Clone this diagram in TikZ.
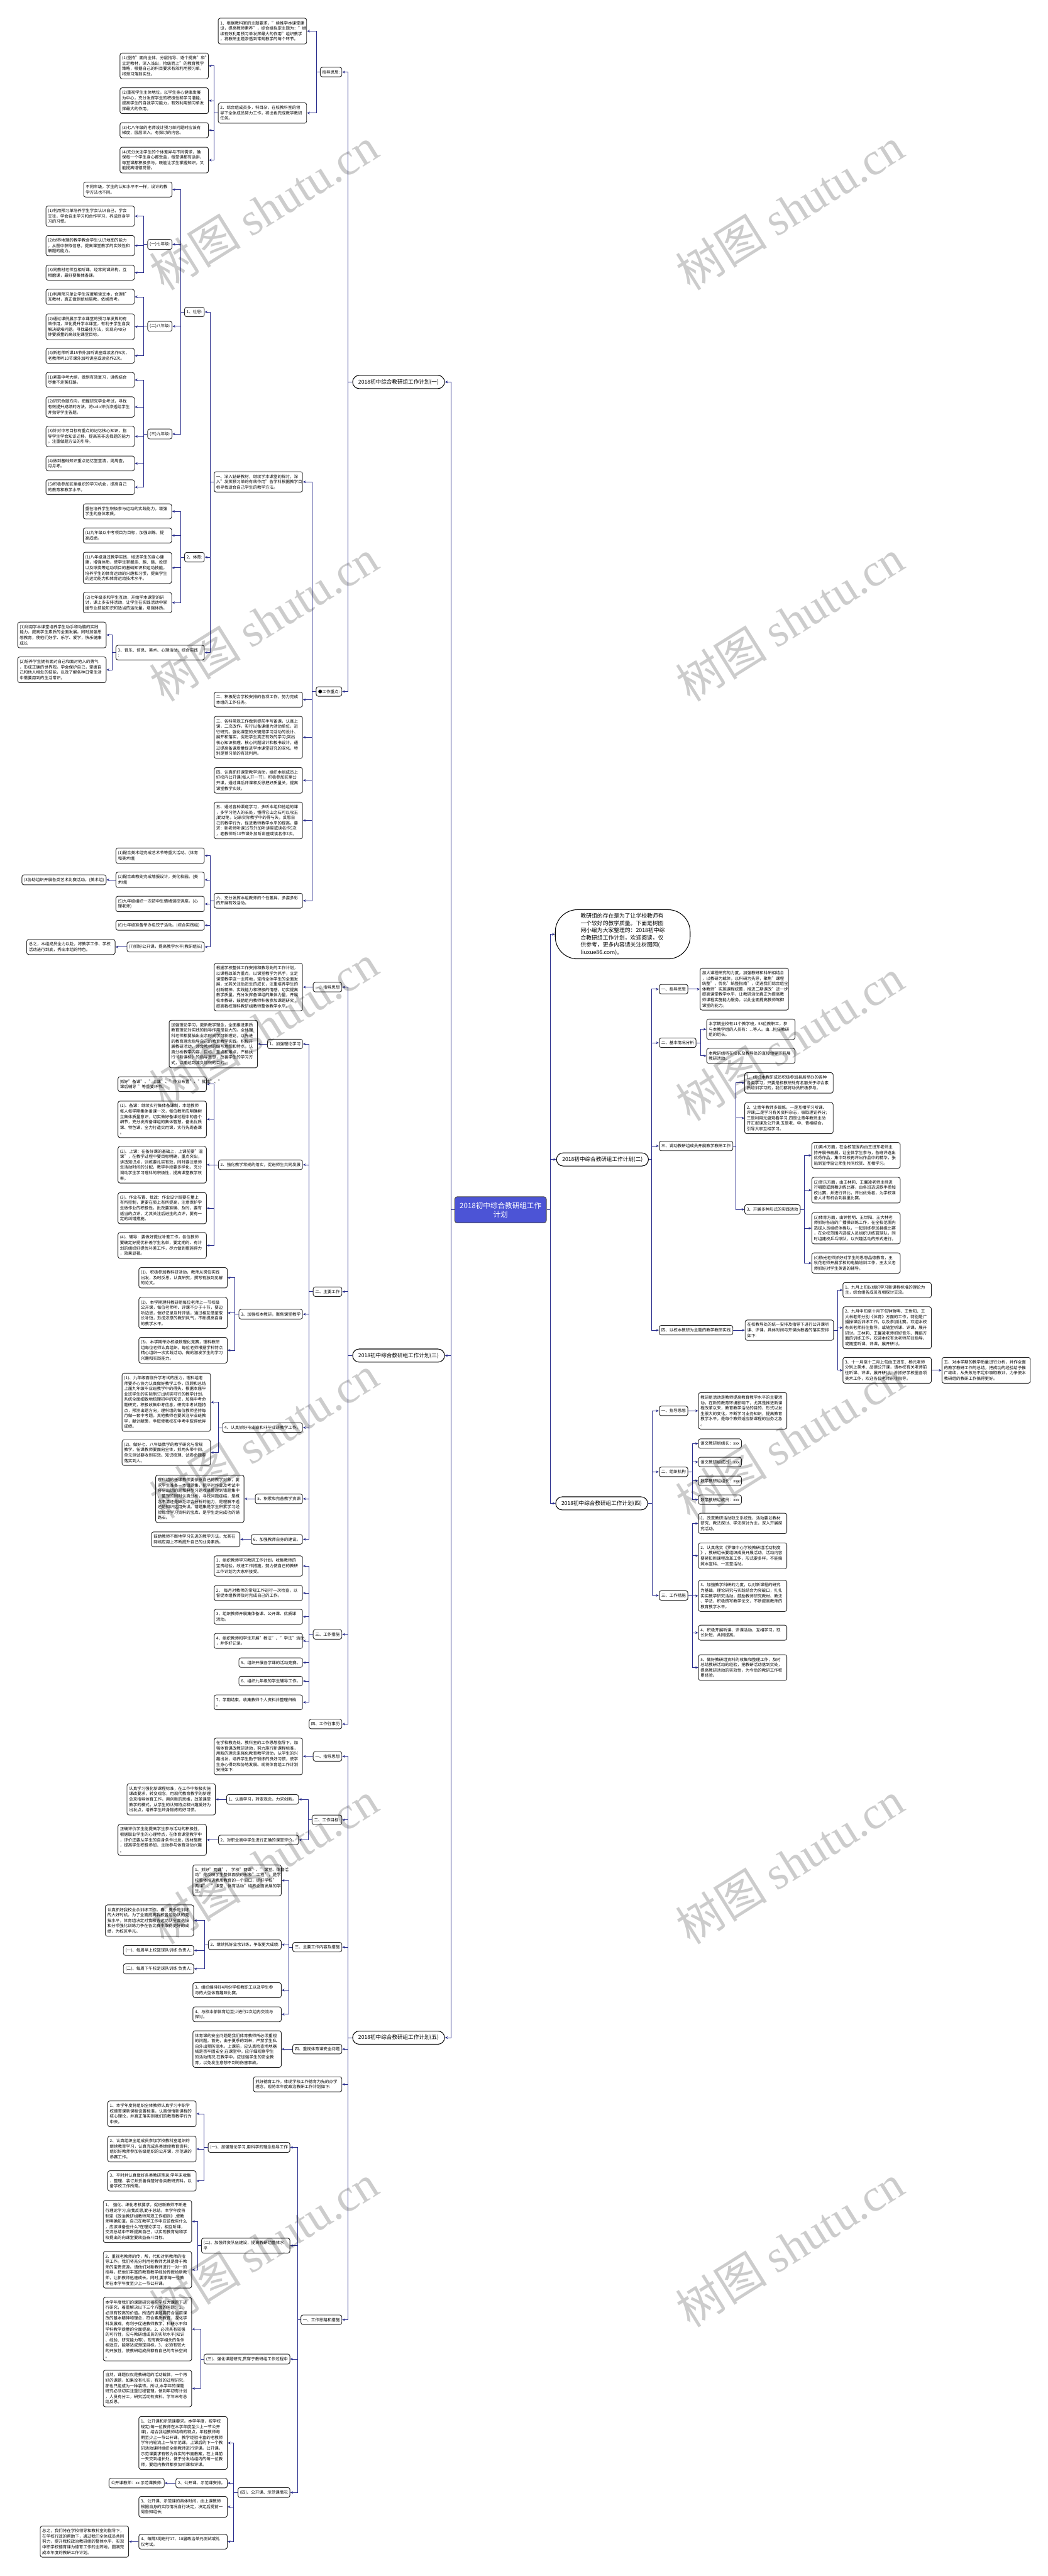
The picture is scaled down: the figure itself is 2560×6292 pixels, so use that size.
\documentclass[tikz,border=0pt]{standalone}
\usepackage{fontspec}
\setmainfont{Noto Sans CJK SC}
\newfontfamily\markfont{Liberation Serif}
\usetikzlibrary{arrows.meta}
\definecolor{linkblue}{RGB}{40,44,140}
\definecolor{rootblue}{RGB}{76,84,214}
\tikzset{
  box/.style={draw=black!85, line width=0.7pt, rounded corners=2.5pt, fill=white,
    font=\fontsize{5}{6.6}\selectfont, inner xsep=2.5pt, inner ysep=3.5pt},
  leaf/.style={box, text width=103pt, align=left},
  tag/.style={box, align=left},
  branch/.style={draw=black, line width=0.8pt, rounded corners=8pt, fill=white,
    font=\fontsize{6.6}{8}\selectfont, inner xsep=7pt, inner ysep=4.6pt},
  rootbox/.style={draw=black!70, line width=0.8pt, rounded corners=3pt, fill=rootblue,
    text=white, font=\fontsize{8.9}{10.7}\selectfont, align=center, inner xsep=6pt, inner ysep=6.5pt},
  introbox/.style={draw=black, line width=0.8pt, rounded corners=27pt, fill=white,
    font=\fontsize{6.75}{8.8}\selectfont, align=left, inner xsep=31pt, inner ysep=4.5pt},
  conn/.style={draw=linkblue, line width=0.7pt, -{Stealth[length=3.5pt,width=3pt]}},
  wmark/.style={text=black, text opacity=0.2, font=\fontsize{56}{56}\selectfont, rotate=32, inner sep=0pt}
}
\begin{document}
\begin{tikzpicture}[x=0.5pt,y=-0.5pt]
\useasboundingbox (0,0) rectangle (2560,6292);

\node[rootbox] (root) at (1223,2955) {2018初中综合教研组工作\\计划};

\node[branch, anchor=east] (b1) at (1087,933) {2018初中综合教研组工作计划(一)};
\node[branch, anchor=east] (b3) at (1087,3311) {2018初中综合教研组工作计划(三)};
\node[branch, anchor=east] (b5) at (1087,4977) {2018初中综合教研组工作计划(五)};
\node[introbox, anchor=west] (intro) at (1356,2282) {教研组的存在是为了让学校教师有\\一个较好的教学质量。下面是树图\\网小编为大家整理的：2018初中综\\合教研组工作计划，欢迎阅读，仅\\供参考，更多内容请关注树图网(\\liuxue86.com)。};
\node[branch, anchor=west] (b2) at (1359,2832) {2018初中综合教研组工作计划(二)};
\node[branch, anchor=west] (b4) at (1357,3672) {2018初中综合教研组工作计划(四)};

\node[tag, anchor=east] (b1g) at (836,176) {指导思想:};
\node[leaf, anchor=east] (b1g1) at (750,76) {1、根据教科室的主题要求，"续推学本课堂建\\设，提高教师素养"，综合组拟定主题为："继\\续有效利用预习单发挥最大的作用"组织教学\\，将教研主题渗透到常规教学的每个环节。};
\node[leaf, anchor=east] (b1g2) at (750,276) {2、综合组成员多，科目杂，在校教科室的领\\导下全体成员努力工作，将出色完成教学教研\\任务。};
\node[leaf, anchor=east] (b1g2a) at (510,161) {(1)坚持"面向全体，分层指导、逐个提高"和"\\立足教材，深入浅出，拾级而上"的教育教学\\策略，根据自己的科目要求有效利用预习单，\\将预习落到实处。};
\node[leaf, anchor=east] (b1g2b) at (510,246) {(2)重视学生主体地位，以学生身心健康发展\\为中心，充分发挥学生的积极性和学习潜能，\\提高学生的自我学习能力，有效利用预习单发\\挥最大的作用。};
\node[leaf, anchor=east] (b1g2c) at (510,318) {(3)七八年级的老师设计预习单问题时应该有\\梯度，层层深入，有探讨的内容。};
\node[leaf, anchor=east] (b1g2d) at (510,391) {(4)充分关注学生的个体差异与不同需求，确\\保每一个学生身心都受益，每堂课都有话讲，\\每堂课都积极参与，既能让学生掌握知识，又\\能提高道德觉悟。};

\node[tag, anchor=east] (b1k) at (836,1689) {●工作重点:};
\node[leaf, anchor=east] (b1k1) at (740,1177) {一、深入钻研教材，继续学本课堂的探讨，深\\入"发挥预习单的有效作用"各学科根据教学目\\标寻找适合自己学生的教学方法。};
\node[tag, anchor=east] (b1k1a) at (500,762) {1、社思:};
\node[leaf, anchor=east] (b1k1a0) at (421,463) {不同年级，学生的认知水平不一样，设计的教\\学方法也不同。};
\node[tag, anchor=east] (b1k1a1) at (421,597) {(一)七年级:};
\node[leaf, anchor=east] (b1k1a1a) at (329,528) {(1)利用预习单培养学生学会认识自己，学会\\交往，学会自主学习和合作学习，养成终身学\\习的习惯。};
\node[leaf, anchor=east] (b1k1a1b) at (329,600) {(2)世界地理的教学教会学生认识地图的能力\\，从图中获取信息，提高课堂教学的实效性和\\解题的能力。};
\node[leaf, anchor=east] (b1k1a1c) at (329,666) {(3)同教材老师互相听课，经常同课异构，互\\相磨课，最好要集体备课。};
\node[tag, anchor=east] (b1k1a2) at (421,797) {(二)八年级:};
\node[leaf, anchor=east] (b1k1a2a) at (329,725) {(1)利用预习单让学生深度解读文本，合理扩\\充教材，真正做到依标施教，依纲而考。};
\node[leaf, anchor=east] (b1k1a2b) at (329,798) {(2)通过课例展示学本课堂的预习单发挥的有\\效作用，深化提升学本课堂，有利于学生自我\\解决疑难问题。寻找最佳方法，实现向40分\\钟要质量的高效能课堂目标。};
\node[leaf, anchor=east] (b1k1a2c) at (329,869) {(4)新老师听课15节外加听讲座或读名作5次，\\老教师听10节课外加听讲座或读名作2次。};
\node[tag, anchor=east] (b1k1a3) at (421,1060) {(三)九年级:};
\node[leaf, anchor=east] (b1k1a3a) at (329,928) {(1)紧靠中考大纲，做到有效复习，讲练结合\\尽量不走冤枉路。};
\node[leaf, anchor=east] (b1k1a3b) at (329,994) {(2)研究命题方向，把握研究学业考试，寻找\\有效提升成绩的方法。将solo评价渗透给学生\\并指导学生答题。};
\node[leaf, anchor=east] (b1k1a3c) at (329,1066) {(3)针对中考目标有重点的记忆核心知识，指\\导学生学会知识迁移，提高答非选择题的能力\\，注重做题方法的引导。};
\node[leaf, anchor=east] (b1k1a3d) at (329,1132) {(4)做到基础知识重点记忆堂堂清，周周查，\\月月考。};
\node[leaf, anchor=east] (b1k1a3e) at (329,1190) {(5)积极参加区里组织的学习机会，提高自己\\的教育和教学水平。};
\node[tag, anchor=east] (b1k1b) at (500,1361) {2、体育:};
\node[leaf, anchor=east] (b1k1ba) at (420,1249) {重在培养学生积极参与运动的实践能力，增强\\学生的身体素质。};
\node[leaf, anchor=east] (b1k1bb) at (420,1308) {(1)九年级以中考项目为目标，加强训练，提\\高成绩。};
\node[leaf, anchor=east] (b1k1bc) at (420,1387) {(1)八年级通过教学实践，增进学生的身心健\\康，增强体质，使学生掌握走、跑、跳、投掷\\以及球类等运动项目的基础知识和运动技能。\\培养学生的体育运动的兴趣和习惯，提高学生\\的运动能力和体育运动技术水平。};
\node[leaf, anchor=east] (b1k1bd) at (420,1472) {(2)七年级多和学生互动，开始学本课堂的研\\讨，课上多安排活动，让学生在实践活动中掌\\握专业技能知识和适当的运动量，增强体质。};
\node[leaf, anchor=east] (b1k1c) at (500,1594) {3、音乐、信息、美术、心理活动、综合实践\\:};
\node[leaf, anchor=east] (b1k1ca) at (260,1551) {(1)利用学本课堂培养学生动手和动脑的实践\\能力，提高学生素质的全面发展。同时加强思\\想教育，使他们好学、乐学、爱学，快乐健康\\成长};
\node[leaf, anchor=east] (b1k1cb) at (260,1636) {(2)培养学生拥有面对自己和面对他人的勇气\\，形成正确的世界观。学会保护自己，掌握自\\己和他人相处的技能，以及了解各种日常生活\\中需要用到的生活常识。};
\node[leaf, anchor=east] (b1k2) at (740,1709) {二、积极配合学校安排的各项工作，努力完成\\本组的工作任务。};
\node[leaf, anchor=east] (b1k3) at (740,1801) {三、各科常规工作做到提前手写备课，认真上\\课，二次改作。实行以备课组为活动单位，进\\行研究。强化课堂的关键是学习活动的设计、\\展开和落实，促进学生真正有效的学习;突出\\核心知识梳理、核心问题设计和板书设计，通\\过提高备课质量促进学本课堂研究的深化，特\\别是预习单的有效利用。};
\node[leaf, anchor=east] (b1k4) at (740,1906) {四、认真抓好课堂教学活动，组织本组成员上\\好校内公开课(每人开一节)，积极参加区里公\\开课，通过课后评课和反思把好质量关，提高\\课堂教学实效。};
\node[leaf, anchor=east] (b1k5) at (740,2004) {五、通过各种渠道学习，多听本组和他组的课\\，多学习他人的长处，懂得它山之石可以攻玉\\;勤动笔，记录实际教学中的得与失，反思自\\己的教学行为，促进教师教学水平的提高。要\\求：新老师听课15节外加听讲座或读名作5次\\，老教师听10节课外加听讲座或读名作2次。};
\node[leaf, anchor=east] (b1k6) at (740,2200) {六、充分发挥本组教师的个性差异，多姿多彩\\的开展有效活动。};
\node[leaf, anchor=east] (b1k6a) at (500,2090) {(1)配合美术组完成艺术节等重大活动。(体育\\和美术组)};
\node[leaf, anchor=east] (b1k6b) at (500,2149) {(2)配合政教处完成墙报设计，美化校园。(美\\术组)};
\node[tag, anchor=east] (b1k6b1) at (260,2149) {(3协助组织开展各类艺术比赛活动。(美术组)};
\node[leaf, anchor=east] (b1k6c) at (500,2208) {(5)九年级组织一次初中生情绪调控讲座。(心\\理老师)};
\node[leaf, anchor=east] (b1k6d) at (500,2260) {(6)七年级准备举办包饺子活动。(综合实践组)};
\node[tag, anchor=east] (b1k6e) at (500,2313) {(7)抓好公开课，提高教学水平(教研组长)};
\node[leaf, anchor=east] (b1k6e1) at (282,2313) {总之，本组成员全力以赴，将教学工作、学校\\活动进行到底，秀出本组的特色。};

\node[tag, anchor=east] (b3g) at (836,2411) {一、指导思想};
\node[leaf, anchor=east] (b3g1) at (740,2411) {根据学校整体工作安排和教导处的工作计划，\\以课程改革为重点，以课堂教学为抓手，立足\\课堂教学这一主阵地，坚持全体学生的全面发\\展，尤其关注后进生的成长，注重培养学生的\\创新精神、实践能力和积极的情感，切实提高\\教学质量。充分发挥备课组的集体力量，开展\\校本教研，鼓励组内教师积极参加课题研究，\\提高我校理科教研组教师整体教学水平。};
\node[tag, anchor=east] (b3m) at (836,3155) {二、主要工作};
\node[tag, anchor=east] (b3m1) at (740,2550) {1、加强理论学习};
\node[leaf, anchor=east] (b3m1a) at (630,2550) {加强理论学习，更新教学理念，全面推进素质\\教育理论对实践的指导作用是巨大的。全体理\\科老师都要抽出业余时间学习新理论，以先进\\的教育理念指导自己的教育教学实践。积极开\\展教研活动，领会教材的编写意图和特点，认\\真分析教学内容、目标、重点和难点，严格执\\行《新课标》的指导思想，改善学生的学习方\\式，以期达到减负增效的目的。};
\node[tag, anchor=east] (b3m2) at (740,2845) {2、强化教学常规的落实，促进师生共同发展};
\node[leaf, anchor=east] (b3m2a) at (505,2648) {抓好"备课"、"上课"、"作业布置"、"批改"、"\\课后辅导~"等重要环节。};
\node[leaf, anchor=east] (b3m2b) at (505,2734) {(1)、备课：继续实行集体备课制，本组教师\\每人每学期集体备课一次，每位教师应明确树\\立集体质量意识，切实做好备课过程中的各个\\细节，充分发挥备课组的集体智慧，备出优质\\课、特色课，全力打造实用课，实行先周备课\\。};
\node[leaf, anchor=east] (b3m2c) at (505,2845) {(2)、上课：在备好课的基础上，上课前要"温\\课"，在教学过程中要目标明确，重点突出，\\讲透知识点，训练要扎实有效，同时要注意师\\生活动时间的分配，教学手段要多样化，充分\\调动学生学习理科的积极性，提高课堂教学效\\率。};
\node[leaf, anchor=east] (b3m2d) at (505,2951) {(3)、作业布置、批改：作业设计既要在量上\\有所控制，更要在质上有所提高，注意保护学\\生做作业的积极性。批改要准确、及时，要有\\适当的点评，尤其关注后进生的点评，要有一\\定的纠错措施。};
\node[leaf, anchor=east] (b3m2e) at (505,3042) {(4)、辅导：要做好提优补差工作，各位教师\\要确定好提优补差学生名单，要定期的、有计\\划的组织好提优补差工作，尽力做到措施得力\\，效果显著。};
\node[tag, anchor=east] (b3m3) at (740,3210) {3、加强校本教研，聚焦课堂教学};
\node[leaf, anchor=east] (b3m3a) at (556,3121) {(1)、积极参加教科研活动，教师从岗位实践\\出发，及时反思，认真研究，撰写有独到见解\\的论文。};
\node[leaf, anchor=east] (b3m3b) at (556,3207) {(2)、本学期理科教研组每位老师上一节校级\\公开课，每位老师听、评课不少于十节，要边\\听边思，做好记录及时评语，通过相互借鉴取\\长补短，形成浓厚的教研风气，不断提高自身\\的教学水平。};
\node[leaf, anchor=east] (b3m3c) at (556,3298) {(3)、本学期举办校级数理化竞赛，理科教研\\组每位老师认真组织。每位老师根据学科特点\\精心组织一次实践活动，做的激发学生的学习\\兴趣和实践能力。};
\node[tag, anchor=east] (b3m4) at (740,3487) {4、认真抓好毕业班和非毕业班教学工作。};
\node[leaf, anchor=east] (b3m4a) at (515,3425) {(1)、九年级面临升学考试的压力，理科组老\\师要齐心协力认真做好教学工作，回顾和总结\\上届九年级毕业班教学中的得失，根据本届毕\\业班学生的实际制订出切实可行的教学计划，\\系统全面细致地梳理初中的知识，加强中考命\\题研究，积极收集中考信息，研究中考试题特\\点，预测出题方向，理科组的每位教师坚持每\\月做一套中考题。其他教师也要关注毕业班教\\学，献计献策，争取使我校在中考中取得优异\\成绩。};
\node[leaf, anchor=east] (b3m4b) at (515,3548) {(2)、做好七、八年级数学的教学研究与常规\\教学，任课教师要面向全体，抓两头带中间，\\单元测试要收到实效。知识梳理、试卷命题要\\落实到人。};
\node[tag, anchor=east] (b3m5) at (740,3661) {5、积累和完善教学资源};
\node[leaf, anchor=east] (b3m5a) at (597,3661) {理科组的任课教师要依据自己的教学对象，要\\求学生准备一本错题集，把平时作业及考试中\\容易出错的题和典型习题收录整理到错题集中\\，整理的同时认真分析，寻找问题症结，是概\\念不清还是缺乏综合分析的能力，是理解不透\\还是知识运用失误。错题集是学生积累学习经\\验综合学习资料的宝库，是学生走向成功的铺\\路石。};
\node[tag, anchor=east] (b3m6) at (740,3760) {6、加强教师自身的建设。};
\node[leaf, anchor=east] (b3m6a) at (587,3760) {鼓励教师不断地学习先进的教学方法，尤其在\\网络应用上不断提升自己的业务素质。};
\node[tag, anchor=east] (b3w) at (836,3992) {三、工作措施};
\node[leaf, anchor=east] (b3w1) at (740,3825) {1、组织教师学习教研工作计划，收集教师的\\宝贵经验，改进工作措施，努力使自己的教研\\工作计划为大家所接受。};
\node[leaf, anchor=east] (b3w2) at (740,3891) {2、~每月对教师的常规工作进行一次检查，以\\督促本组教师及时完成自己的工作。};
\node[leaf, anchor=east] (b3w3) at (740,3949) {3、组织教师开展集体备课、公开课、优质课\\活动。};
\node[leaf, anchor=east] (b3w4) at (740,4008) {4、组织教师和学生开展"教法"、"学法"活动\\，并作好记录。};
\node[tag, anchor=east] (b3w5) at (740,4061) {5、组织开展各学课的活动竞赛。};
\node[tag, anchor=east] (b3w6) at (740,4106) {6、组织九年级的学生辅导工作。};
\node[leaf, anchor=east] (b3w7) at (740,4158) {7、学期结束，收集教师个人资料并整理归档\\。};
\node[tag, anchor=east] (b3x) at (836,4211) {四、工作行事历};

\node[tag, anchor=east] (b5g) at (836,4290) {一、指导思想};
\node[leaf, anchor=east] (b5g1) at (740,4290) {在学校教务处、教科室的工作思想指导下，加\\强体育课改教研活动，努力施行新课程标准，\\用新的理念来强化教育教学活动，从学生的兴\\趣出发，培养学生勤于锻炼的良好习惯，使学\\生身心得到和协地发展。现将体育组工作计划\\安排如下:};
\node[tag, anchor=east] (b5t) at (836,4445) {二、工作目标:};
\node[tag, anchor=east] (b5t1) at (730,4395) {1、认真学习，转变观念，力求创新。};
\node[leaf, anchor=east] (b5t1a) at (527,4395) {认真学习强化新课程标准，在工作中积极实施\\课改要求，转变观念，用现代教育教学的新理\\念来指导体育工作，用创新的思维，改革课堂\\教学的模式，从学生的认知特点和兴趣爱好为\\出发点，培养学生终身锻炼的好习惯。};
\node[tag, anchor=east] (b5t2) at (730,4494) {2、对职业高中学生进行正确的课堂评价。};
\node[leaf, anchor=east] (b5t2a) at (505,4494) {正确评价学生能提高学生参与活动的积极性，\\根据职业学生的心理特点，在体育课堂教学中\\，评价还要从学生的自身条件出发，因材施教\\，提高学生积极参加、主动参与体育活动兴趣\\。};
\node[tag, anchor=east] (b5m) at (836,4756) {三、主要工作内容及措施};
\node[leaf, anchor=east] (b5m1) at (688,4593) {1、抓好"两课"，~学校"两课"、"课堂、体育活\\动"是反映学生整体面貌的形象"工程"，是学\\校整体推进素质教育的一个窗口，抓好学校"\\两课"、"课堂、体育活动"培养全面发展的学\\生。};
\node[tag, anchor=east] (b5m2) at (688,4750) {2、继续抓好业余训练，争取更大成绩:};
\node[leaf, anchor=east] (b5m2a) at (474,4691) {认真抓好我校业余训练工作。春、夏季是训练\\的大好时机。为了全面提高我校各运动队的竞\\技水平，体育组决定对我校各运动队全面选拔\\和分项强化训练力争在各比赛中取得更好的成\\绩，为校区争光。};
\node[tag, anchor=east] (b5m2b) at (474,4764) {(一)、每周早上校篮球队训练 负责人:};
\node[tag, anchor=east] (b5m2c) at (474,4809) {(二)、每周下午校足球队训练 负责人:};
\node[leaf, anchor=east] (b5m3) at (688,4861) {3、组织编排好4月份学校教职工以及学生参\\与的大型体育趣味比赛。};
\node[leaf, anchor=east] (b5m4) at (688,4920) {4、与校本部体育组至少进行2次组内交流与\\探讨。};
\node[tag, anchor=east] (b5s) at (836,5005) {四、重视体育课安全问题};
\node[leaf, anchor=east] (b5s1) at (688,5005) {体育课的安全问题是我们体育教师所必须重视\\的问题。首先，由于夏季的到来，严禁学生私\\自外出预防溺水。上课前，应认真检查场地器\\械是否牢固安全;在课堂中，应仔细观察学生\\的活动情况;在教学中，应加强学生的安全教\\育，以免发生意想不到的伤害事故。};
\node[leaf, anchor=east] (b5d) at (836,5091) {抓好德育工作，体现学校工作德育为先的办学\\理念，现将本年度政治教研工作计划如下:};
\node[tag, anchor=east] (b5w) at (836,5666) {一、工作思路和措施};
\node[tag, anchor=east] (b5w1) at (709,5245) {(一)、加强理论学习,用科学的理念指导工作};
\node[leaf, anchor=east] (b5w1a) at (480,5163) {1、本学年度将组织全体教师认真学习中职学\\校德育课新课程设置标准，认真领悟新课程的\\核心理论，并真正落实到我们的教育教学行为\\中去。};
\node[leaf, anchor=east] (b5w1b) at (480,5249) {2、认真组织全组成员参加学校教科室组织的\\继续教育学习，认真完成各类继续教育资料;\\组织好教师参加各级组织的公开课，示范课的\\参赛工作。};
\node[leaf, anchor=east] (b5w1c) at (480,5327) {3、平时并认真做好各类教研笔录,学年末收集\\、整理、装订并妥善保管好各类教研资料，以\\备学校工作所需。};
\node[leaf, anchor=east] (b5w2) at (709,5485) {(二)、加强师资队伍建设，提高教研组整体水\\平};
\node[leaf, anchor=east] (b5w2a) at (469,5426) {1、~强化、细化考核要求，促进新教师不断进\\行理论学习,自我反思,勤于总结。本学年度将\\制定《政治教研组教师常规工作细则》,使教\\师明确知道，自己在教学工作中应该做些什么\\，应该准备些什么?在理论学习，相互听课，\\交流总结中不断提高自己，以实现教育局和学\\校提出的向课堂要效益奋斗目标。};
\node[leaf, anchor=east] (b5w2b) at (469,5544) {2、重视老教师的传，帮，代和对新教师的指\\导工作。我们将充分利用老教师尤其是骨干教\\师的宝贵资源。请他们对新教师进行一对一的\\指导，把他们丰富的教育教学经验传授给新教\\师，让新教师迅速成长。同时,要求每一位教\\师在本学年度至少上一节公开课。};
\node[tag, anchor=east] (b5w3) at (709,5762) {(三)、强化课题研究,贯穿于教研组工作过程中};
\node[leaf, anchor=east] (b5w3a) at (469,5689) {本学年度我们的课题研究将在学校大课题下进\\行研究，着重解决以下三个方面的问题：1、\\必须有较高的价值。所选的课题要符合当前课\\改的基本精神和理念，符合素质教育，深化学\\科发展观，有利于促进教师教学，科研水平和\\学科教学质量的全面提高。2、必须具有较强\\的可行性，应与教研组成员的实际水平(知识\\、经验、研究能力等)，现有教学相关的条件\\相适应，能够达成预定目标。3、必须有较大\\的开放性，使教研组成员都有自己的专长空间\\。};
\node[leaf, anchor=east] (b5w3b) at (469,5834) {当然，课题仅仅是教研组的活动载体，一个再\\好的课题，如果没有扎实，有效的过程研究，\\那也只能成为一种装饰。所以,本学年的课题\\研究必须切实注重过程管理，做到年初有计划\\，人员有分工，研究活动有资料。学年末有总\\结反思。};
\node[tag, anchor=east] (b5w4) at (709,6088) {(四)、公开课、示范课情况};
\node[leaf, anchor=east] (b5w4a) at (556,5967) {1、公开课和示范课要求。本学年度，按学校\\规定(每一位教师在本学年度至少上一节公开\\课)，结合我组教师结构的特点，年轻教师每\\期至少上一节公开课，教学经验丰富的老教师\\学年内轮流上一节示范课。上课后的下一个教\\研活动课时组织全组教师进行评课。公开课，\\示范课要求有较为详实的书面教案，在上课前\\一天交到组长处，便于分发给组内的每一位教\\师，要组内教师都参加听课和评课。};
\node[tag, anchor=east] (b5w4b) at (556,6065) {2、公开课、示范课安排。};
\node[tag, anchor=east] (b5w4b1) at (402,6065) {公开课教师：xx 示范课教师:};
\node[leaf, anchor=east] (b5w4c) at (556,6123) {3、公开课、示范课的具体时间，由上课教师\\根据自身的实际情况自行决定，决定后提前一\\周告知组长;};
\node[leaf, anchor=east] (b5w4d) at (556,6208) {4、每隔3周进行17、18届政治单元测试或礼\\仪考试。};
\node[leaf, anchor=east] (b5w4d1) at (315,6208) {总之，我们将在学校领导和教科室的指导下，\\在学校行政的帮助下，通过我们全体成员共同\\努力，提升我校政治教研组的整体水平，实现\\中职学校德育课为德育工作的主阵地，圆满完\\成本年度的教研工作计划。};

\node[tag, anchor=west] (b2g) at (1610,2416) {一、指导思想};
\node[leaf, anchor=west] (b2g1) at (1710,2416) {加大课程研究的力度，加强教研和科研相结合\\，以教研为载体，以科研为先导，聚焦"课程\\统整"，优化"统整指南"，促进我们综合组全\\体教师"实施课程统整，推进二期课改"进一步\\提高课堂教学水平，让教研活动真正为提高教\\师课程实施能力服务。以此全面提高教师驾御\\课堂的能力。};
\node[tag, anchor=west] (b2j) at (1610,2547) {二、基本情况分析};
\node[leaf, anchor=west] (b2j1) at (1726,2514) {本学期全校有11个教学班，53位教职工，参\\与本教学组的人员有：...等人。由...担任教研\\组的组长。};
\node[leaf, anchor=west] (b2j2) at (1726,2579) {本教研组将在校长及教导处的直接领导下开展\\教研活动。};
\node[tag, anchor=west] (b2d) at (1610,2799) {三、调动教研组成员开展教学教研工作};
\node[leaf, anchor=west] (b2d1) at (1819,2645) {1、组织本教研成员积极参加县局举办的各种\\各类学习，只要是校教研处有名额关于综合素\\质培训学习的，我们都将动员积极参与。};
\node[leaf, anchor=west] (b2d2) at (1819,2731) {2、让青年教师多锻炼，一是互相学习听课、\\评课;二是学习有关资料杂志，吸取理论养分;\\三是利用光盘观看学习;四是让青年教师主动\\开汇报课及公开课;五是老、中、青相结合，\\引导大家互相学习。};
\node[tag, anchor=west] (b2d3) at (1819,2954) {3、开展多种形式的实践活动};
\node[leaf, anchor=west] (b2d3a) at (1983,2822) {(1)美术方面，在全校范围内由王进东老师主\\持开展书画展，让全体学生参与，各班评选出\\优秀作品，集中到校再评出作品中的精华，张\\贴到宣传窗让师生共同欣赏、互相学习。};
\node[leaf, anchor=west] (b2d3b) at (1983,2907) {(2)音乐方面，由王林莉、王馨凌老师主持进\\行唱歌或跳舞训练比赛，由各班选送歌手参加\\校比赛，并进行评比，评出优秀者，为学校准\\备人才有机会到县里比赛。};
\node[leaf, anchor=west] (b2d3c) at (1983,3000) {(3)体育方面，由钟哲明、王世阳、王大林老\\师抓好各班的广播操训练工作，在全校范围内\\选拔人员组织体操队，一起训练参加县级比赛\\，在全校范围内选拔人员组织训练篮球队，同\\时组建校乒乓球队，以兴趣活动的形式进行。};
\node[leaf, anchor=west] (b2d3d) at (1983,3085) {(4)杨光老师抓好对学生的思想品德教育，王\\秋花老师开展学校的电脑培训工作，王太义老\\师抓好对学生英语的辅导。};
\node[tag, anchor=west] (b2s) at (1610,3249) {四、以校本教研为主题的教学教研实践};
\node[leaf, anchor=west] (b2s1) at (1820,3249) {在校教导处的统一安排及指导下进行公开课听\\课、评课，具体时间与开课执教者的落实安排\\如下:};
\node[leaf, anchor=west] (b2s1a) at (2059,3151) {1、九月上旬以组织学习新课程标准的理论为\\主，综合组各成员互相探讨交流。};
\node[leaf, anchor=west] (b2s1b) at (2059,3243) {2、九月中旬至十月下旬钟哲明、王世阳、王\\大林老师分别《体育》方面的工作，特别是广\\播操课后训练工作，以及参加比赛。欢迎本校\\有关老师前往指导。或随堂听课、评课，展开\\研讨。王林莉、王馨凌老师抓好音乐、舞蹈方\\面的训练工作，欢迎本校有关老师前往指导，\\或随堂听课、评课，展开研讨。};
\node[leaf, anchor=west] (b2s1c) at (2059,3347) {3、十一月至十二月上旬由王进东、杨光老师\\分别上美术、品德公开课，请本校有关老师前\\往听课、评课，展开研讨。并抓好学校里各项\\美术工作，欢迎各位老师前往指导。};
\node[leaf, anchor=west] (b2s1d) at (2301,3347) {五、对本学期的教学质量进行分析，并作全面\\的教学教研工作的总结，把成功的经验给予推\\广继续，从失败与不足中吸取教训，力争使本\\教研组的教研工作搞得更好。};

\node[tag, anchor=west] (b4g) at (1610,3446) {一、指导思想};
\node[leaf, anchor=west] (b4g1) at (1706,3446) {教研组活动是教师提高教育教学水平的主要活\\动，在新的教育环境影响下，尤其是推进新课\\程改革以来，教育教学活动的目的、形式以发\\生很大的变化，不断学习业务知识，提高教育\\教学水平，是每个教师适应新课程的当务之急\\。};
\node[tag, anchor=west] (b4o) at (1610,3595) {二、组织机构};
\node[tag, anchor=west] (b4o1) at (1706,3526) {语文教研组组长：xxx};
\node[tag, anchor=west] (b4o2) at (1706,3571) {语文教研组成员：xxx};
\node[tag, anchor=west] (b4o3) at (1706,3617) {数学教研组组长：xxx};
\node[tag, anchor=west] (b4o4) at (1706,3663) {数学教研组成员：xxx};
\node[tag, anchor=west] (b4w) at (1610,3897) {三、工作措施};
\node[leaf, anchor=west] (b4w1) at (1706,3721) {1、改变教研活动缺乏系统性，活动要以教材\\研究、教法探讨、学法探讨为主，深入开展探\\究活动。};
\node[leaf, anchor=west] (b4w2) at (1706,3800) {2、认真落实《罗镇中心学校教研组活动制度\\》，教研组长要组织成员开展活动，活动内容\\要紧扣新课程改革工作，形式要多样，不能搞\\照本宣科、一言堂活动。};
\node[leaf, anchor=west] (b4w3) at (1706,3898) {3、加强教学科研的力度，以对新课程的研究\\为基础，理论研究与实践结合为突破口，扎扎\\实实教学研究活动，鼓励教师研究教材、教法\\、学法，积极撰写教学论文，不断提高教师的\\教育教学水平。};
\node[leaf, anchor=west] (b4w4) at (1706,3988) {4、积极开展听课、评课活动，互相学习，取\\长补短，共同提高。};
\node[leaf, anchor=west] (b4w5) at (1706,4073) {5、做好教研组资料的收集和整理工作，及时\\总结教研活动的经验，把教研活动落到实处，\\提高教研活动的实效性，为今后的教研工作积\\累经验。};

\draw[conn] (root.west) -- ++(-9,0) |- (b1.east);
\draw[conn] (root.west) -- ++(-9,0) |- (b3.east);
\draw[conn] (root.west) -- ++(-9,0) |- (b5.east);
\draw[conn] (root.east) -- ++(9,0) |- (intro.west);
\draw[conn] (root.east) -- ++(9,0) |- (b2.west);
\draw[conn] (root.east) -- ++(9,0) |- (b4.west);

\draw[conn] (b1.west) -- ++(-10,0) |- (b1g.east);
\draw[conn] (b1.west) -- ++(-10,0) |- (b1k.east);
\draw[conn] (b1g.west) -- ++(-9,0) |- (b1g1.east);
\draw[conn] (b1g.west) -- ++(-9,0) |- (b1g2.east);
\draw[conn] (b1g2.west) -- ++(-10,0) |- (b1g2a.east);
\draw[conn] (b1g2.west) -- ++(-10,0) |- (b1g2b.east);
\draw[conn] (b1g2.west) -- ++(-10,0) |- (b1g2c.east);
\draw[conn] (b1g2.west) -- ++(-10,0) |- (b1g2d.east);
\draw[conn] (b1k.west) -- ++(-9,0) |- (b1k1.east);
\draw[conn] (b1k.west) -- ++(-9,0) |- (b1k2.east);
\draw[conn] (b1k.west) -- ++(-9,0) |- (b1k3.east);
\draw[conn] (b1k.west) -- ++(-9,0) |- (b1k4.east);
\draw[conn] (b1k.west) -- ++(-9,0) |- (b1k5.east);
\draw[conn] (b1k.west) -- ++(-9,0) |- (b1k6.east);
\draw[conn] (b1k1.west) -- ++(-9,0) |- (b1k1a.east);
\draw[conn] (b1k1.west) -- ++(-9,0) |- (b1k1b.east);
\draw[conn] (b1k1.west) -- ++(-9,0) |- (b1k1c.east);
\draw[conn] (b1k1a.west) -- ++(-9,0) |- (b1k1a0.east);
\draw[conn] (b1k1a.west) -- ++(-9,0) |- (b1k1a1.east);
\draw[conn] (b1k1a.west) -- ++(-9,0) |- (b1k1a2.east);
\draw[conn] (b1k1a.west) -- ++(-9,0) |- (b1k1a3.east);
\draw[conn] (b1k1a1.west) -- ++(-9,0) |- (b1k1a1a.east);
\draw[conn] (b1k1a1.west) -- ++(-9,0) |- (b1k1a1b.east);
\draw[conn] (b1k1a1.west) -- ++(-9,0) |- (b1k1a1c.east);
\draw[conn] (b1k1a2.west) -- ++(-9,0) |- (b1k1a2a.east);
\draw[conn] (b1k1a2.west) -- ++(-9,0) |- (b1k1a2b.east);
\draw[conn] (b1k1a2.west) -- ++(-9,0) |- (b1k1a2c.east);
\draw[conn] (b1k1a3.west) -- ++(-9,0) |- (b1k1a3a.east);
\draw[conn] (b1k1a3.west) -- ++(-9,0) |- (b1k1a3b.east);
\draw[conn] (b1k1a3.west) -- ++(-9,0) |- (b1k1a3c.east);
\draw[conn] (b1k1a3.west) -- ++(-9,0) |- (b1k1a3d.east);
\draw[conn] (b1k1a3.west) -- ++(-9,0) |- (b1k1a3e.east);
\draw[conn] (b1k1b.west) -- ++(-9,0) |- (b1k1ba.east);
\draw[conn] (b1k1b.west) -- ++(-9,0) |- (b1k1bb.east);
\draw[conn] (b1k1b.west) -- ++(-9,0) |- (b1k1bc.east);
\draw[conn] (b1k1b.west) -- ++(-9,0) |- (b1k1bd.east);
\draw[conn] (b1k1c.west) -- ++(-9,0) |- (b1k1ca.east);
\draw[conn] (b1k1c.west) -- ++(-9,0) |- (b1k1cb.east);
\draw[conn] (b1k6.west) -- ++(-9,0) |- (b1k6a.east);
\draw[conn] (b1k6.west) -- ++(-9,0) |- (b1k6b.east);
\draw[conn] (b1k6.west) -- ++(-9,0) |- (b1k6c.east);
\draw[conn] (b1k6.west) -- ++(-9,0) |- (b1k6d.east);
\draw[conn] (b1k6.west) -- ++(-9,0) |- (b1k6e.east);
\draw[conn] (b1k6b.west) -- (b1k6b1.east);
\draw[conn] (b1k6e.west) -- (b1k6e1.east);

\draw[conn] (b3.west) -- ++(-10,0) |- (b3g.east);
\draw[conn] (b3.west) -- ++(-10,0) |- (b3m.east);
\draw[conn] (b3.west) -- ++(-10,0) |- (b3w.east);
\draw[conn] (b3.west) -- ++(-10,0) |- (b3x.east);
\draw[conn] (b3g.west) -- (b3g1.east);
\draw[conn] (b3m.west) -- ++(-9,0) |- (b3m1.east);
\draw[conn] (b3m.west) -- ++(-9,0) |- (b3m2.east);
\draw[conn] (b3m.west) -- ++(-9,0) |- (b3m3.east);
\draw[conn] (b3m.west) -- ++(-9,0) |- (b3m4.east);
\draw[conn] (b3m.west) -- ++(-9,0) |- (b3m5.east);
\draw[conn] (b3m.west) -- ++(-9,0) |- (b3m6.east);
\draw[conn] (b3m1.west) -- (b3m1a.east);
\draw[conn] (b3m2.west) -- ++(-10,0) |- (b3m2a.east);
\draw[conn] (b3m2.west) -- ++(-10,0) |- (b3m2b.east);
\draw[conn] (b3m2.west) -- ++(-10,0) |- (b3m2c.east);
\draw[conn] (b3m2.west) -- ++(-10,0) |- (b3m2d.east);
\draw[conn] (b3m2.west) -- ++(-10,0) |- (b3m2e.east);
\draw[conn] (b3m3.west) -- ++(-10,0) |- (b3m3a.east);
\draw[conn] (b3m3.west) -- ++(-10,0) |- (b3m3b.east);
\draw[conn] (b3m3.west) -- ++(-10,0) |- (b3m3c.east);
\draw[conn] (b3m4.west) -- ++(-9,0) |- (b3m4a.east);
\draw[conn] (b3m4.west) -- ++(-9,0) |- (b3m4b.east);
\draw[conn] (b3m5.west) -- (b3m5a.east);
\draw[conn] (b3m6.west) -- (b3m6a.east);
\draw[conn] (b3w.west) -- ++(-9,0) |- (b3w1.east);
\draw[conn] (b3w.west) -- ++(-9,0) |- (b3w2.east);
\draw[conn] (b3w.west) -- ++(-9,0) |- (b3w3.east);
\draw[conn] (b3w.west) -- ++(-9,0) |- (b3w4.east);
\draw[conn] (b3w.west) -- ++(-9,0) |- (b3w5.east);
\draw[conn] (b3w.west) -- ++(-9,0) |- (b3w6.east);
\draw[conn] (b3w.west) -- ++(-9,0) |- (b3w7.east);

\draw[conn] (b5.west) -- ++(-10,0) |- (b5g.east);
\draw[conn] (b5.west) -- ++(-10,0) |- (b5t.east);
\draw[conn] (b5.west) -- ++(-10,0) |- (b5m.east);
\draw[conn] (b5.west) -- ++(-10,0) |- (b5s.east);
\draw[conn] (b5.west) -- ++(-10,0) |- (b5d.east);
\draw[conn] (b5.west) -- ++(-10,0) |- (b5w.east);
\draw[conn] (b5g.west) -- (b5g1.east);
\draw[conn] (b5t.west) -- ++(-9,0) |- (b5t1.east);
\draw[conn] (b5t.west) -- ++(-9,0) |- (b5t2.east);
\draw[conn] (b5t1.west) -- (b5t1a.east);
\draw[conn] (b5t2.west) -- (b5t2a.east);
\draw[conn] (b5m.west) -- ++(-9,0) |- (b5m1.east);
\draw[conn] (b5m.west) -- ++(-9,0) |- (b5m2.east);
\draw[conn] (b5m.west) -- ++(-9,0) |- (b5m3.east);
\draw[conn] (b5m.west) -- ++(-9,0) |- (b5m4.east);
\draw[conn] (b5m2.west) -- ++(-9,0) |- (b5m2a.east);
\draw[conn] (b5m2.west) -- ++(-9,0) |- (b5m2b.east);
\draw[conn] (b5m2.west) -- ++(-9,0) |- (b5m2c.east);
\draw[conn] (b5s.west) -- (b5s1.east);
\draw[conn] (b5w.west) -- ++(-8,0) |- (b5w1.east);
\draw[conn] (b5w.west) -- ++(-8,0) |- (b5w2.east);
\draw[conn] (b5w.west) -- ++(-8,0) |- (b5w3.east);
\draw[conn] (b5w.west) -- ++(-8,0) |- (b5w4.east);
\draw[conn] (b5w1.west) -- ++(-10,0) |- (b5w1a.east);
\draw[conn] (b5w1.west) -- ++(-10,0) |- (b5w1b.east);
\draw[conn] (b5w1.west) -- ++(-10,0) |- (b5w1c.east);
\draw[conn] (b5w2.west) -- ++(-8,0) |- (b5w2a.east);
\draw[conn] (b5w2.west) -- ++(-8,0) |- (b5w2b.east);
\draw[conn] (b5w3.west) -- ++(-8,0) |- (b5w3a.east);
\draw[conn] (b5w3.west) -- ++(-8,0) |- (b5w3b.east);
\draw[conn] (b5w4.west) -- ++(-10,0) |- (b5w4a.east);
\draw[conn] (b5w4.west) -- ++(-10,0) |- (b5w4b.east);
\draw[conn] (b5w4.west) -- ++(-10,0) |- (b5w4c.east);
\draw[conn] (b5w4.west) -- ++(-10,0) |- (b5w4d.east);
\draw[conn] (b5w4b.west) -- (b5w4b1.east);
\draw[conn] (b5w4d.west) -- (b5w4d1.east);

\draw[conn] (b2.east) -- ++(7,0) |- (b2g.west);
\draw[conn] (b2.east) -- ++(7,0) |- (b2j.west);
\draw[conn] (b2.east) -- ++(7,0) |- (b2d.west);
\draw[conn] (b2.east) -- ++(7,0) |- (b2s.west);
\draw[conn] (b2g.east) -- (b2g1.west);
\draw[conn] (b2j.east) -- ++(10,0) |- (b2j1.west);
\draw[conn] (b2j.east) -- ++(10,0) |- (b2j2.west);
\draw[conn] (b2d.east) -- ++(7,0) |- (b2d1.west);
\draw[conn] (b2d.east) -- ++(7,0) |- (b2d2.west);
\draw[conn] (b2d.east) -- ++(7,0) |- (b2d3.west);
\draw[conn] (b2d3.east) -- ++(10,0) |- (b2d3a.west);
\draw[conn] (b2d3.east) -- ++(10,0) |- (b2d3b.west);
\draw[conn] (b2d3.east) -- ++(10,0) |- (b2d3c.west);
\draw[conn] (b2d3.east) -- ++(10,0) |- (b2d3d.west);
\draw[conn] (b2s.east) -- (b2s1.west);
\draw[conn] (b2s1.east) -- ++(10,0) |- (b2s1a.west);
\draw[conn] (b2s1.east) -- ++(10,0) |- (b2s1b.west);
\draw[conn] (b2s1.east) -- ++(10,0) |- (b2s1c.west);
\draw[conn] (b2s1c.east) -- (b2s1d.west);

\draw[conn] (b4.east) -- ++(10,0) |- (b4g.west);
\draw[conn] (b4.east) -- ++(10,0) |- (b4o.west);
\draw[conn] (b4.east) -- ++(10,0) |- (b4w.west);
\draw[conn] (b4g.east) -- (b4g1.west);
\draw[conn] (b4o.east) -- ++(10,0) |- (b4o1.west);
\draw[conn] (b4o.east) -- ++(10,0) |- (b4o2.west);
\draw[conn] (b4o.east) -- ++(10,0) |- (b4o3.west);
\draw[conn] (b4o.east) -- ++(10,0) |- (b4o4.west);
\draw[conn] (b4w.east) -- ++(10,0) |- (b4w1.west);
\draw[conn] (b4w.east) -- ++(10,0) |- (b4w2.west);
\draw[conn] (b4w.east) -- ++(10,0) |- (b4w3.west);
\draw[conn] (b4w.east) -- ++(10,0) |- (b4w4.west);
\draw[conn] (b4w.east) -- ++(10,0) |- (b4w5.west);

\node[wmark] (wm1) at (645,510) {树图 {\markfont shutu.cn}};
\node[wmark] (wm2) at (1930,510) {树图 {\markfont shutu.cn}};
\node[wmark] (wm3) at (645,1515) {树图 {\markfont shutu.cn}};
\node[wmark] (wm4) at (1930,1515) {树图 {\markfont shutu.cn}};
\node[wmark] (wm5) at (645,2505) {树图 {\markfont shutu.cn}};
\node[wmark] (wm6) at (1930,2540) {树图 {\markfont shutu.cn}};
\node[wmark] (wm7) at (645,3510) {树图 {\markfont shutu.cn}};
\node[wmark] (wm8) at (1930,3515) {树图 {\markfont shutu.cn}};
\node[wmark] (wm9) at (645,4550) {树图 {\markfont shutu.cn}};
\node[wmark] (wm10) at (1930,4550) {树图 {\markfont shutu.cn}};
\node[wmark] (wm11) at (645,5485) {树图 {\markfont shutu.cn}};
\node[wmark] (wm12) at (1930,5485) {树图 {\markfont shutu.cn}};
\end{tikzpicture}
\end{document}
